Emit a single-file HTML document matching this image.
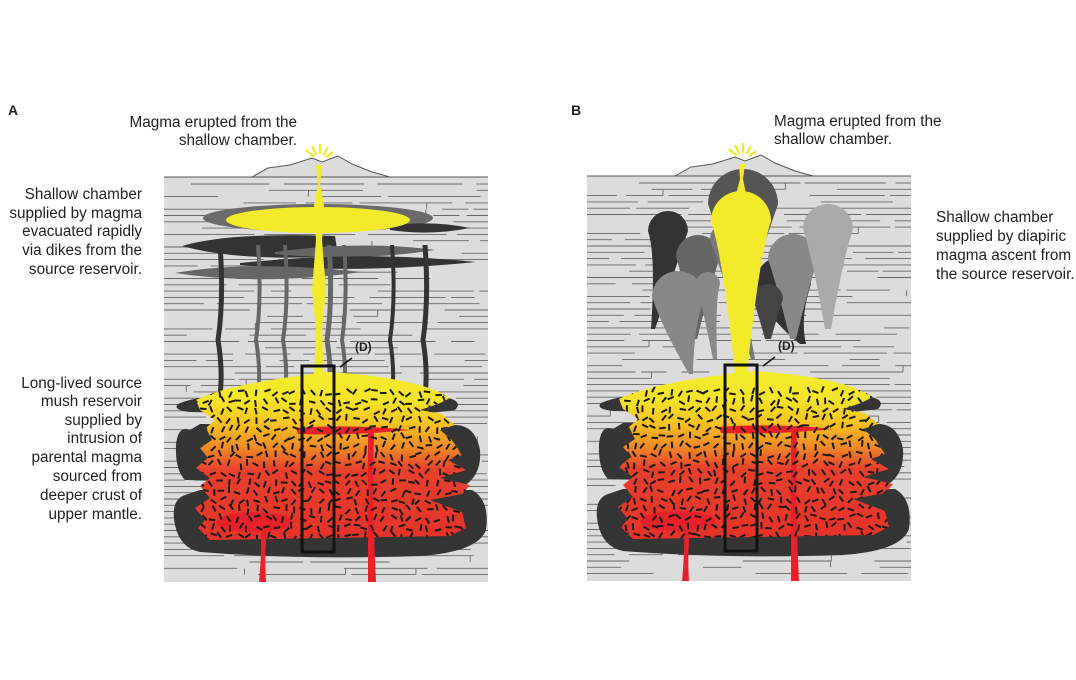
<!DOCTYPE html>
<html><head><meta charset="utf-8"><style>
html,body{margin:0;padding:0;background:#fff;width:1076px;height:680px;overflow:hidden}
svg{display:block}
text{font-family:"Liberation Sans",sans-serif;font-size:15.3px;fill:#222}
</style></head><body>
<svg id="s" width="1076" height="680" viewBox="0 0 1076 680" xmlns="http://www.w3.org/2000/svg">
<defs>
<linearGradient id="mg" x1="0" y1="0" x2="0" y2="1">
<stop offset="0" stop-color="#f4ec2c"/><stop offset="0.17" stop-color="#f6e42a"/>
<stop offset="0.3" stop-color="#f7c520"/><stop offset="0.45" stop-color="#f08a26"/>
<stop offset="0.58" stop-color="#e8402c"/><stop offset="1" stop-color="#e6322a"/>
</linearGradient>
</defs>
<text x="8" y="115" style="font-weight:bold;font-size:14px">A</text>
<text x="571" y="115" style="font-weight:bold;font-size:14px">B</text>
<g text-anchor="end">
<text x="297" y="127">Magma erupted from the</text>
<text x="297" y="145">shallow chamber.</text>
<text x="142" y="199">Shallow chamber</text>
<text x="142" y="218">supplied by magma</text>
<text x="142" y="236">evacuated rapidly</text>
<text x="142" y="255">via dikes from the</text>
<text x="142" y="274">source reservoir.</text>
<text x="142" y="388">Long-lived source</text>
<text x="142" y="406">mush reservoir</text>
<text x="142" y="425">supplied by</text>
<text x="142" y="443">intrusion of</text>
<text x="142" y="462">parental magma</text>
<text x="142" y="481">sourced from</text>
<text x="142" y="500">deeper crust of</text>
<text x="142" y="519">upper mantle.</text>
</g>
<text x="774" y="126">Magma erupted from the</text>
<text x="774" y="144">shallow chamber.</text>
<text x="936" y="222">Shallow chamber</text>
<text x="936" y="241">supplied by diapiric</text>
<text x="936" y="260">magma ascent from</text>
<text x="936" y="279">the source reservoir.</text>
<g id="pa"></g>
<g id="pb" transform="translate(423,-1)"></g>
</svg>
<script>
var NS="http://www.w3.org/2000/svg";
function el(p,t,a){var e=document.createElementNS(NS,t);for(var k in a)e.setAttribute(k,a[k]);p.appendChild(e);return e;}
var seed=7;function r(){seed=(seed*16807)%2147483647;return seed/2147483647;}
function base(g){
 el(g,"rect",{x:164,y:177,width:324,height:405,fill:"#dcdcdc"});
 el(g,"path",{d:"M252,177 L268,168 L290,165 L312,158 L322,162 L338,156 L352,164 L372,172 L390,177 Z",fill:"#dcdcdc",stroke:"#555","stroke-width":1});
 el(g,"line",{x1:164,y1:177,x2:252,y2:177,stroke:"#555"});el(g,"line",{x1:390,y1:177,x2:488,y2:177,stroke:"#555"});
 for(var y=184;y<580;y+=6.3){var x=164;while(x<484){var l=20+r()*80;var xe=Math.min(488,x+l);if(r()<0.75)el(g,"line",{x1:x,y1:y,x2:xe,y2:y,stroke:"#666","stroke-width":0.9});
  if(r()<0.12&&xe<486)el(g,"line",{x1:xe,y1:y-6,x2:xe,y2:y,stroke:"#666","stroke-width":0.9});x+=l+4+r()*14;}}
}
function mush(g,cid){
 var d="#353535";
 el(g,"path",{d:"M178,404 Q200,394 240,398 L440,396 Q465,400 455,410 Q400,418 300,414 L190,412 Q172,410 178,404Z",fill:d});
 el(g,"path",{d:"M190,430 Q178,425 176,445 Q175,470 185,480 L460,488 Q482,478 480,450 Q475,425 455,425 L200,424Z",fill:d});
 el(g,"path",{d:"M185,495 Q170,500 175,525 Q180,548 200,552 Q300,560 420,556 Q478,552 486,530 Q490,500 472,490 L430,490 L200,490Z",fill:d});
 var m="M196,400 Q230,383 330,372 Q420,378 450,398 L438,404 L420,410 L442,414 L455,425 L440,430 L452,440 L462,455 L448,460 L466,470 L440,478 L470,485 L462,494 L430,500 L462,512 L466,528 L450,536 L210,540 L198,528 L205,520 L195,508 L210,498 L200,486 L210,478 L196,468 L208,458 L200,448 L212,440 L206,428 L215,420 L200,410 Z";
 var cp=el(g,"clipPath",{id:cid});el(cp,"path",{d:m});
 el(g,"path",{d:m,fill:"url(#mg)"});
 el(g,"path",{d:"M296,428 Q350,424 410,430 Q350,436 298,434Z",fill:"#e8202a"});
 el(g,"path",{d:"M368,430 L374,430 Q372,500 376,582 L368,582 Q368,500 368,430Z",fill:"#e8202a"});
 el(g,"ellipse",{cx:255,cy:522,rx:38,ry:10,fill:"#e8202a"});
 el(g,"path",{d:"M261,525 L268,525 Q264,550 266,582 L259,582 Q262,550 261,525Z",fill:"#e8202a"});
 var cg=el(g,"g",{"clip-path":"url(#"+cid+")",stroke:"#1a1a1a","stroke-width":2,"stroke-linecap":"butt"});
 for(var y=390;y<545;y+=9)for(var x=192;x<470;x+=9){var xx=x+r()*5,yy=y+r()*5,a=r()*Math.PI,L=3.3;
  el(cg,"line",{x1:xx-L*Math.cos(a),y1:yy-L*Math.sin(a),x2:xx+L*Math.cos(a),y2:yy+L*Math.sin(a)});}
}
function box(g){
 el(g,"rect",{x:302,y:366,width:32,height:186,fill:"none",stroke:"#111","stroke-width":3});
 el(g,"line",{x1:340,y1:367,x2:352,y2:358,stroke:"#111","stroke-width":1.5});
 var t=el(g,"text",{x:355,y:351,style:"font-weight:bold;font-size:12px"});t.textContent="(D)";
}
function rays(g,x,y){[[-14,-12],[-8,-16],[0,-18],[8,-15],[13,-10]].forEach(function(v){el(g,"line",{x1:x+v[0]*0.45,y1:y+v[1]*0.45,x2:x+v[0],y2:y+v[1],stroke:"#f2e824","stroke-width":2.2});});}
var A=document.getElementById("pa"),B=document.getElementById("pb");
base(A);
var dk="#333",gr="#666";
el(A,"ellipse",{cx:318,cy:218,rx:115,ry:14,fill:"#6a6a6a"});
el(A,"path",{d:"M182,246 Q230,232 335,236 L338,256 Q240,262 182,246Z",fill:dk});
el(A,"path",{d:"M275,252 Q360,240 435,250 Q360,262 275,254Z",fill:gr});
el(A,"path",{d:"M240,263 Q360,250 476,262 Q360,274 240,265Z",fill:dk});
el(A,"path",{d:"M175,273 Q250,260 362,272 Q260,286 175,273Z",fill:gr});
el(A,"path",{d:"M390,226 Q430,220 470,228 Q430,236 390,230Z",fill:dk});
[[220,dk,5],[258,gr,4],[285,gr,4],[329,gr,5],[344,gr,4],[392,dk,4],[425,dk,5]].forEach(function(d){
 el(A,"path",{d:"M"+d[0]+",245 Q"+(d[0]+4)+",300 "+(d[0]-2)+",340 Q"+(d[0]+3)+",370 "+d[0]+",395",stroke:d[1],"stroke-width":d[2],fill:"none"});});
el(A,"ellipse",{cx:318,cy:220,rx:92,ry:13,fill:"#f2ea2a"});
el(A,"path",{d:"M316,165 L322,165 L320,185 L324,205 L322,240 L326,290 L322,330 L324,376 L314,376 L316,330 L312,290 L316,240 L314,205 L318,185Z",fill:"#f2ea2a"});
rays(A,320,162);
mush(A,"ca");box(A);

base(B);
function drop(g,cx,cy,R,tx,ty,c,w){el(g,"path",{d:"M"+(cx-R)+","+cy+" A"+R+","+R+" 0 0 1 "+(cx+R)+","+cy+" Q"+(cx+R*0.6)+","+(cy+R*1.2)+" "+(tx+w)+","+ty+" L"+(tx-w)+","+ty+" Q"+(cx-R*0.6)+","+(cy+R*1.2)+" "+(cx-R)+","+cy+"Z",fill:c});}
drop(B,320,205,35,318,300,"#555",3);
drop(B,245,232,20,230,330,"#333",2);
drop(B,275,258,22,272,340,"#666",2);
drop(B,303,240,16,330,360,"#777",2);
drop(B,255,298,26,268,375,"#888",2);
drop(B,285,285,12,292,360,"#888",2);
drop(B,360,285,28,380,345,"#333",3);
drop(B,370,260,25,370,340,"#888",3);
drop(B,405,230,25,405,330,"#aaa",3);
drop(B,345,300,15,345,340,"#444",3);
drop(B,318,222,30,318,375,"#f2ea2a",6);
el(B,"path",{d:"M316,165 L322,165 L320,180 L323,195 L313,195 L317,180Z",fill:"#f2ea2a"});
rays(B,320,162);
mush(B,"cb");box(B);
</script>
</body></html>
